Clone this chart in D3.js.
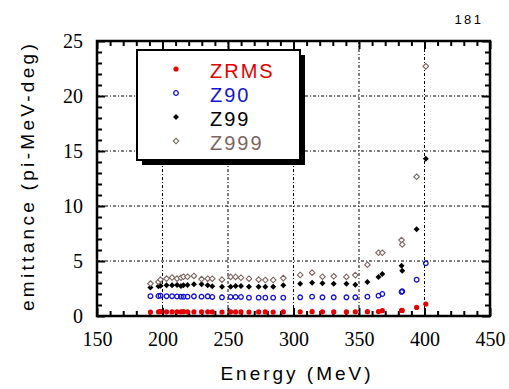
<!DOCTYPE html>
<html>
<head>
<meta charset="utf-8">
<script src="https://cdn.jsdelivr.net/npm/d3@7"></script>
<style>
  html, body { margin: 0; padding: 0; background: #fff; }
  svg { display: block; }
</style>
</head>
<body>
<svg id="chart" width="509" height="389"></svg>
<script>
// Beam energy at each sampling point (MeV)
const energy = [190.8, 196.9, 198.5, 203.1, 207.3, 211.1, 214.1, 216.0, 219.1, 224.0,
  229.8, 234.5, 238.0, 245.4, 252.0, 255.8, 259.9, 266.0, 273.4, 278.5,
  284.5, 292.2, 305.1, 314.2, 322.1, 330.7, 340.4, 347.2, 356.4, 364.9,
  367.8, 382.5, 383.0, 394.0, 401.0];

// Emittance series (pi-MeV-deg)
const zrms = [0.36, 0.38, 0.40, 0.38, 0.37, 0.38, 0.38, 0.40, 0.38, 0.37,
  0.38, 0.38, 0.37, 0.36, 0.38, 0.37, 0.37, 0.36, 0.37, 0.37,
  0.36, 0.37, 0.38, 0.39, 0.38, 0.37, 0.37, 0.38, 0.39, 0.40,
  0.48, 0.52, 0.50, 0.78, 1.08];
const z90 = [1.80, 1.82, 1.85, 1.80, 1.80, 1.78, 1.76, 1.76, 1.76, 1.79,
  1.76, 1.79, 1.73, 1.70, 1.73, 1.73, 1.73, 1.67, 1.67, 1.67,
  1.67, 1.67, 1.70, 1.76, 1.70, 1.70, 1.70, 1.70, 1.76, 1.85,
  2.00, 2.20, 2.25, 3.30, 4.80];
const z99 = [2.60, 2.70, 2.75, 2.80, 2.80, 2.82, 2.73, 2.79, 2.82, 2.88,
  2.88, 2.79, 2.70, 2.67, 2.67, 2.73, 2.73, 2.67, 2.67, 2.67,
  2.67, 2.79, 2.94, 3.03, 2.97, 2.94, 2.94, 2.85, 3.09, 3.55,
  3.82, 4.57, 4.12, 7.88, 14.30];
const z999 = [2.95, 3.10, 3.30, 3.40, 3.50, 3.40, 3.48, 3.57, 3.57, 3.64,
  3.36, 3.39, 3.39, 3.30, 3.55, 3.55, 3.48, 3.39, 3.30, 3.27,
  3.27, 3.45, 3.73, 3.94, 3.57, 3.61, 3.55, 3.72, 4.66, 5.75,
  5.75, 6.90, 6.50, 12.66, 22.70];

const seriesNames = ["ZRMS", "Z90", "Z99", "Z999"];
const xTicks = [150, 200, 250, 300, 350, 400, 450];
const yTicks = [0, 5, 10, 15, 20, 25];

const svg = d3.select("#chart");
const pLeft = 97, pRight = 490, pTop = 41, pBottom = 316;

const x = d3.scaleLinear().domain([150, 450]).range([pLeft, pRight]);
const y = d3.scaleLinear().domain([0, 25]).range([pBottom, pTop]);

const series = [
  { name: seriesNames[0], values: zrms, color: "#e30000", kind: "dot" },
  { name: seriesNames[1], values: z90, color: "#1414d2", kind: "ring" },
  { name: seriesNames[2], values: z99, color: "#000000", kind: "diamond" },
  { name: seriesNames[3], values: z999, color: "#7d6561", kind: "openDiamond" }
];

// dashed grid at the major ticks
const grid = svg.append("g").attr("stroke", "#000").attr("stroke-width", 1)
  .attr("stroke-dasharray", "3,2,1,2").attr("fill", "none");
grid.selectAll("line.gx").data(xTicks.slice(1, -1)).join("line")
  .attr("class", "gx")
  .attr("x1", d => x(d)).attr("x2", d => x(d)).attr("y1", pTop).attr("y2", pBottom);
grid.selectAll("line.gy").data(yTicks.slice(1, -1)).join("line")
  .attr("class", "gy")
  .attr("x1", pLeft).attr("x2", pRight).attr("y1", d => y(d)).attr("y2", d => y(d));

// inward ticks on all four sides
const xMinor = d3.range(160, 450, 10).filter(v => v % 50 !== 0);
const yMinor = d3.range(1, 25, 1).filter(v => v % 5 !== 0);
const tickStyle = g => g.call(s => s.select(".domain").remove())
  .selectAll(".tick line").attr("stroke", "#000").attr("stroke-width", 2);

const axisFont = "'Liberation Serif', 'Times New Roman', serif";
const labelFont = "'Liberation Sans', Arial, sans-serif";

const gBottom = svg.append("g").attr("transform", `translate(0,${pBottom})`)
  .call(d3.axisBottom(x).tickValues(xTicks).tickSizeInner(-8).tickSizeOuter(0).tickPadding(16));
gBottom.call(tickStyle);
gBottom.selectAll("text").attr("font-family", axisFont).attr("font-size", 20).attr("fill", "#000");
svg.append("g").attr("transform", `translate(0,${pBottom})`)
  .call(d3.axisBottom(x).tickValues(xMinor).tickSizeInner(-5).tickSizeOuter(0).tickFormat(""))
  .call(tickStyle);

svg.append("g").attr("transform", `translate(0,${pTop})`)
  .call(d3.axisTop(x).tickValues(xTicks).tickSizeInner(-8).tickSizeOuter(0).tickFormat(""))
  .call(tickStyle);
svg.append("g").attr("transform", `translate(0,${pTop})`)
  .call(d3.axisTop(x).tickValues(xMinor).tickSizeInner(-5).tickSizeOuter(0).tickFormat(""))
  .call(tickStyle);

const gLeft = svg.append("g").attr("transform", `translate(${pLeft},0)`)
  .call(d3.axisLeft(y).tickValues(yTicks).tickSizeInner(-8).tickSizeOuter(0).tickPadding(14));
gLeft.call(tickStyle);
gLeft.selectAll("text").attr("font-family", axisFont).attr("font-size", 20).attr("fill", "#000");
svg.append("g").attr("transform", `translate(${pLeft},0)`)
  .call(d3.axisLeft(y).tickValues(yMinor).tickSizeInner(-5).tickSizeOuter(0).tickFormat(""))
  .call(tickStyle);

svg.append("g").attr("transform", `translate(${pRight},0)`)
  .call(d3.axisRight(y).tickValues(yTicks).tickSizeInner(-8).tickSizeOuter(0).tickFormat(""))
  .call(tickStyle);
svg.append("g").attr("transform", `translate(${pRight},0)`)
  .call(d3.axisRight(y).tickValues(yMinor).tickSizeInner(-5).tickSizeOuter(0).tickFormat(""))
  .call(tickStyle);

// plot frame
svg.append("rect").attr("x", pLeft).attr("y", pTop)
  .attr("width", pRight - pLeft).attr("height", pBottom - pTop)
  .attr("fill", "none").attr("stroke", "#000").attr("stroke-width", 2.5);

// marker drawing
function drawMarker(sel, kind, color) {
  if (kind === "dot") {
    sel.append("circle").attr("r", 2.6).attr("fill", color);
  } else if (kind === "ring") {
    sel.append("circle").attr("r", 2.3).attr("fill", "none").attr("stroke", color).attr("stroke-width", 1.3);
  } else if (kind === "diamond") {
    sel.append("path").attr("d", "M0,-3L3,0L0,3L-3,0Z").attr("fill", color);
  } else {
    sel.append("path").attr("d", "M0,-2.8L2.8,0L0,2.8L-2.8,0Z").attr("fill", "#fff")
      .attr("stroke", color).attr("stroke-width", 1.1);
  }
}

const plot = svg.append("g");
series.forEach(s => {
  const pts = plot.append("g").selectAll("g").data(energy.map((e, i) => [e, s.values[i]]))
    .join("g").attr("transform", d => `translate(${x(d[0])},${y(d[1])})`);
  pts.each(function () { drawMarker(d3.select(this), s.kind, s.color); });
});

// legend with drop shadow
const lg = svg.append("g");
lg.append("rect").attr("x", 142).attr("y", 55).attr("width", 163).attr("height", 110).attr("fill", "#000");
lg.append("rect").attr("x", 137).attr("y", 50).attr("width", 163).attr("height", 110)
  .attr("fill", "#fff").attr("stroke", "#000").attr("stroke-width", 2);
const legendY = [71, 95, 119, 143];
series.forEach((s, i) => {
  const m = lg.append("g").attr("transform", `translate(176,${legendY[i] - 2})`);
  drawMarker(m, s.kind, s.color);
  lg.append("text").attr("x", 210).attr("y", legendY[i]).attr("dy", "0.35em")
    .attr("font-family", labelFont).attr("font-size", 20)
    .attr("letter-spacing", 2).attr("fill", s.color)
    .text(s.name);
});

// axis titles
svg.append("text").attr("x", 297).attr("y", 380).attr("text-anchor", "middle")
  .attr("font-family", labelFont).attr("font-size", 19)
  .attr("letter-spacing", 3).text("Energy (MeV)");
svg.append("text").attr("transform", "translate(34,176) rotate(-90)").attr("text-anchor", "middle")
  .attr("font-family", labelFont).attr("font-size", 19)
  .attr("letter-spacing", 3.3).text("emittance  (pi-MeV-deg)");

// page number
svg.append("text").attr("x", 469).attr("y", 24).attr("text-anchor", "middle")
  .attr("font-family", labelFont).attr("font-size", 13)
  .attr("letter-spacing", 2.5).text("181");
</script>
</body>
</html>
